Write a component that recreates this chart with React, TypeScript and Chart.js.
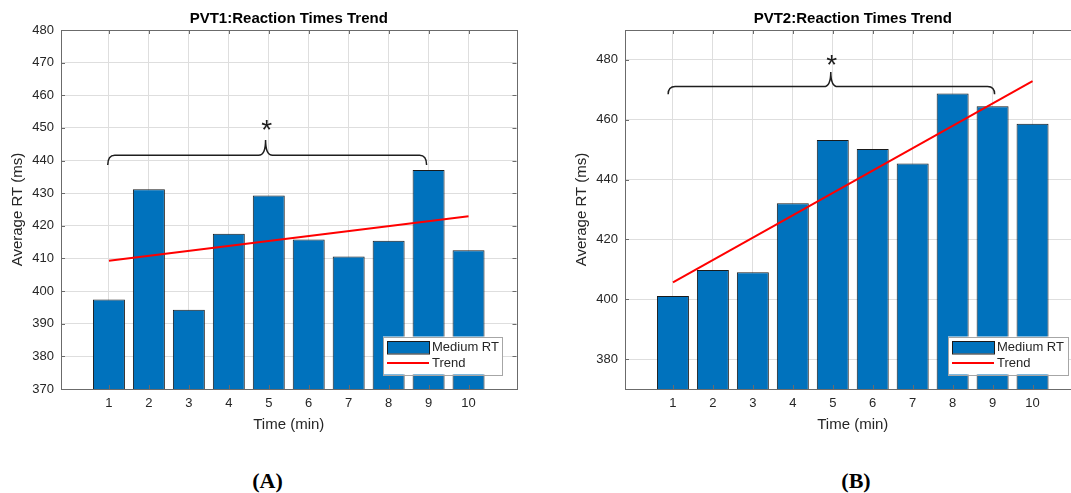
import React, { useEffect, useRef } from 'react';
import { Chart, registerables } from 'chart.js';

Chart.register(...registerables);
Chart.defaults.font.family = '"Liberation Sans", Arial, Helvetica, sans-serif';

// ---------- data ----------
const minutes = [1, 2, 3, 4, 5, 6, 7, 8, 9, 10];
const pvt1RT = [397.4, 431.2, 394.3, 417.6, 429.3, 415.8, 410.6, 415.4, 437.1, 412.5];
const pvt2RT = [401.1, 409.8, 409.0, 432.1, 453.2, 450.2, 445.4, 468.8, 464.5, 458.7];
const trendX = [1, 10];
const pvt1Trend = [409.3, 422.9];
const pvt2Trend = [405.6, 472.9];
const pvt1YTicks = [370, 380, 390, 400, 410, 420, 430, 440, 450, 460, 470, 480];
const pvt2YTicks = [380, 400, 420, 440, 460, 480];
// brace: x start, x tip, x end
const pvt1BraceX = [0.97, 4.92, 8.95];
const pvt2BraceX = [0.88, 4.95, 9.05];
// brace: y of ends, y of line, y of tip, y of star
const pvt1BraceY = [438.6, 441.6, 446.3, 451.6];
const pvt2BraceY = [468.5, 471.1, 476.0, 480.5];
const titles = ['PVT1:Reaction Times Trend', 'PVT2:Reaction Times Trend'];
const seriesLabels = ['Medium RT', 'Trend'];
const xTitle = 'Time (min)';
const yTitle = 'Average RT (ms)';
const starText = '*';
const panelLabels = ['(A)', '(B)'];

// ---------- styles ----------
const BAR_COLOR = '#0072BD';
const TEXT_COLOR = '#262626';
const GRID_COLOR = '#dedede';
const BOX_COLOR = '#6b6b6b';
const CANVAS_W = 540;
const CANVAS_H = 440;

type Panel = {
  left: number;
  title: string;
  values: number[];
  trend: number[];
  yMin: number;
  yMax: number;
  yTicks: number[];
  braceX: number[];
  braceY: number[];
  legendRightGap: number;
  legendWidth: number;
};

const panels: Panel[] = [
  {
    left: 0,
    title: titles[0],
    values: pvt1RT,
    trend: pvt1Trend,
    yMin: 370,
    yMax: 480,
    yTicks: pvt1YTicks,
    braceX: pvt1BraceX,
    braceY: pvt1BraceY,
    legendRightGap: 14.5,
    legendWidth: 119,
  },
  {
    left: 564,
    title: titles[1],
    values: pvt2RT,
    trend: pvt2Trend,
    yMin: 370,
    yMax: 490,
    yTicks: pvt2YTicks,
    braceX: pvt2BraceX,
    braceY: pvt2BraceY,
    legendRightGap: 12.5,
    legendWidth: 120,
  },
];

function makeDecor(p: Panel) {
  return {
    id: 'decor',
    afterDatasetsDraw(chart: any) {
      const { ctx, scales } = chart;
      const x = scales.x;
      const y = scales.y;
      const xs = x.getPixelForValue(p.braceX[0]);
      const xm = x.getPixelForValue(p.braceX[1]);
      const xe = x.getPixelForValue(p.braceX[2]);
      const yEnd = y.getPixelForValue(p.braceY[0]);
      const yLvl = y.getPixelForValue(p.braceY[1]);
      const yTip = y.getPixelForValue(p.braceY[2]);
      const yStar = y.getPixelForValue(p.braceY[3]);
      const r = 7;
      ctx.save();
      ctx.strokeStyle = '#1e1e1e';
      ctx.lineWidth = 1.5;
      ctx.beginPath();
      ctx.moveTo(xs, yEnd);
      ctx.quadraticCurveTo(xs, yLvl, xs + r, yLvl);
      ctx.lineTo(xm - r, yLvl);
      ctx.quadraticCurveTo(xm, yLvl, xm, yTip);
      ctx.quadraticCurveTo(xm, yLvl, xm + r, yLvl);
      ctx.lineTo(xe - r, yLvl);
      ctx.quadraticCurveTo(xe, yLvl, xe, yEnd);
      ctx.stroke();
      ctx.fillStyle = '#1e1e1e';
      ctx.font = '28px "Liberation Sans", Arial, sans-serif';
      ctx.textAlign = 'center';
      ctx.textBaseline = 'alphabetic';
      ctx.fillText(starText, xm + 1, yStar + 0.57 * 28);
      ctx.restore();
    },
    afterDraw(chart: any) {
      const { ctx, chartArea: ca, scales } = chart;
      ctx.save();
      // box
      ctx.strokeStyle = BOX_COLOR;
      ctx.lineWidth = 1;
      ctx.strokeRect(Math.round(ca.left) + 0.5, Math.round(ca.top) + 0.5, Math.round(ca.right - ca.left), Math.round(ca.bottom - ca.top));
      // inward ticks
      const tl = 4;
      ctx.beginPath();
      scales.x.ticks.forEach((t: any) => {
        const px = Math.round(scales.x.getPixelForValue(t.value)) + 0.5;
        ctx.moveTo(px, ca.bottom);
        ctx.lineTo(px, ca.bottom - tl);
        ctx.moveTo(px, ca.top);
        ctx.lineTo(px, ca.top + tl);
      });
      scales.y.ticks.forEach((t: any) => {
        const py = Math.round(scales.y.getPixelForValue(t.value)) + 0.5;
        ctx.moveTo(ca.left, py);
        ctx.lineTo(ca.left + tl, py);
        ctx.moveTo(ca.right, py);
        ctx.lineTo(ca.right - tl, py);
      });
      ctx.stroke();
      // title
      ctx.fillStyle = '#000';
      ctx.font = 'bold 15px "Liberation Sans", Arial, sans-serif';
      ctx.textAlign = 'center';
      ctx.textBaseline = 'middle';
      ctx.fillText(p.title, (ca.left + ca.right) / 2, ca.top - 11.5);
      // legend
      const lw = p.legendWidth;
      const lh = 38;
      const lx = ca.right - p.legendRightGap - lw;
      const ly = ca.bottom - 14.5 - lh;
      ctx.fillStyle = '#fff';
      ctx.fillRect(lx, ly, lw, lh);
      ctx.strokeStyle = '#a6a6a6';
      ctx.strokeRect(Math.round(lx) + 0.5, Math.round(ly) + 0.5, lw, lh);
      const patchX = lx + 4;
      const patchW = 42;
      ctx.fillStyle = BAR_COLOR;
      ctx.fillRect(patchX, ly + 4.5, patchW, 12.5);
      ctx.strokeStyle = '#1a1a1a';
      ctx.strokeRect(Math.round(patchX) + 0.5, Math.round(ly + 4.5) + 0.5, patchW, 12.5);
      ctx.strokeStyle = '#ff0000';
      ctx.lineWidth = 2;
      ctx.beginPath();
      ctx.moveTo(patchX, ly + 26.5);
      ctx.lineTo(patchX + patchW, ly + 26.5);
      ctx.stroke();
      ctx.fillStyle = TEXT_COLOR;
      ctx.font = '13px "Liberation Sans", Arial, sans-serif';
      ctx.textAlign = 'left';
      ctx.textBaseline = 'middle';
      ctx.fillText(seriesLabels[0], patchX + patchW + 3, ly + 11);
      ctx.fillText(seriesLabels[1], patchX + patchW + 3, ly + 26.5);
      ctx.restore();
    },
  };
}

function PvtChart({ p }: { p: Panel }) {
  const ref = useRef<HTMLCanvasElement>(null);
  useEffect(() => {
    const chart = new Chart(ref.current as HTMLCanvasElement, {
      type: 'bar',
      data: {
        datasets: [
          {
            type: 'line',
            label: seriesLabels[1],
            data: trendX.map((x, i) => ({ x, y: p.trend[i] })),
            borderColor: '#ff0000',
            borderWidth: 2,
            pointRadius: 0,
            fill: false,
            order: 0,
            clip: 0,
          } as any,
          {
            type: 'bar',
            label: seriesLabels[0],
            data: minutes.map((x, i) => ({ x, y: p.values[i] })),
            backgroundColor: BAR_COLOR,
            borderColor: '#1a1a1a',
            borderWidth: 1,
            categoryPercentage: 1,
            barPercentage: 0.8,
            order: 1,
            clip: 0,
          } as any,
        ],
      },
      options: {
        responsive: false,
        animation: false,
        events: [],
        layout: { padding: { left: 0, right: 23.5, top: 30, bottom: 0 } },
        plugins: {
          legend: { display: false },
          tooltip: { enabled: false },
          title: { display: false },
        },
        scales: {
          x: {
            type: 'linear',
            min: -0.2,
            max: 11.2,
            offset: false,
            afterBuildTicks: (axis: any) => {
              axis.ticks = minutes.map((v) => ({ value: v }));
            },
            afterFit: (axis: any) => {
              axis.height = 51;
            },
            grid: { color: GRID_COLOR, drawTicks: false, offset: false },
            border: { display: false },
            ticks: {
              color: TEXT_COLOR,
              font: { size: 13 },
              padding: 7,
              maxRotation: 0,
              autoSkip: false,
            },
            title: {
              display: true,
              text: xTitle,
              color: TEXT_COLOR,
              font: { size: 15 },
              padding: { top: 0, bottom: 6 },
            },
          },
          y: {
            type: 'linear',
            min: p.yMin,
            max: p.yMax,
            afterBuildTicks: (axis: any) => {
              axis.ticks = p.yTicks.map((v) => ({ value: v }));
            },
            afterFit: (axis: any) => {
              axis.width = 61;
            },
            grid: { color: GRID_COLOR, drawTicks: false },
            border: { display: false },
            ticks: {
              color: TEXT_COLOR,
              font: { size: 13 },
              padding: 7,
              autoSkip: false,
            },
            title: {
              display: true,
              text: yTitle,
              color: TEXT_COLOR,
              font: { size: 15 },
              padding: { top: 9, bottom: 0 },
            },
          },
        },
      } as any,
      plugins: [makeDecor(p)],
    });
    return () => chart.destroy();
  }, [p]);
  return (
    <canvas
      ref={ref}
      width={CANVAS_W}
      height={CANVAS_H}
      style={{ position: 'absolute', left: p.left, top: 0, width: CANVAS_W, height: CANVAS_H }}
    />
  );
}

const labelStyle = (cx: number): React.CSSProperties => ({
  position: 'absolute',
  left: cx - 50,
  width: 100,
  top: 470,
  textAlign: 'center',
  fontFamily: '"Liberation Serif", "Times New Roman", serif',
  fontWeight: 'bold',
  fontSize: 22,
  lineHeight: '22px',
  color: '#000',
});

export default function App() {
  return (
    <div
      style={{
        position: 'absolute',
        left: 0,
        top: 0,
        width: 1071,
        height: 493,
        overflow: 'hidden',
        background: '#fff',
      }}
    >
      <PvtChart p={panels[0]} />
      <PvtChart p={panels[1]} />
      <div style={labelStyle(267.5)}>{panelLabels[0]}</div>
      <div style={labelStyle(856)}>{panelLabels[1]}</div>
    </div>
  );
}
